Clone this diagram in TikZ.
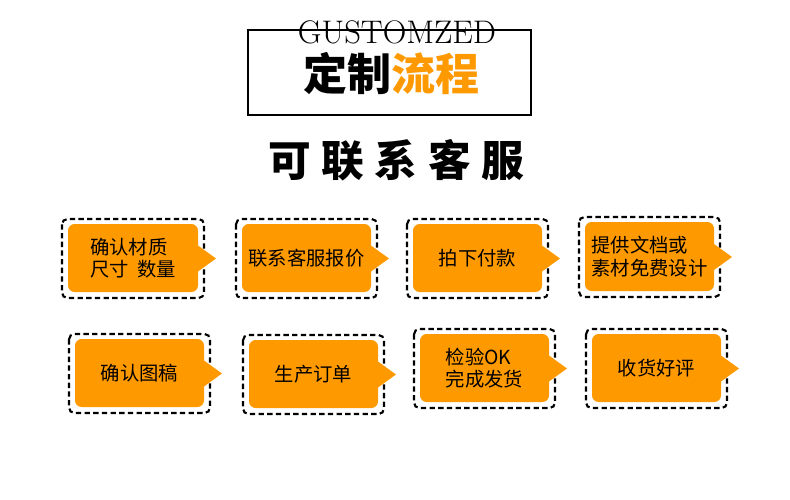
\documentclass[tikz,border=0pt]{standalone}
\usepackage{fontspec}
\newfontfamily\cjk{Noto Sans CJK SC}
\definecolor{org}{HTML}{FF9900}
\begin{document}
\begin{tikzpicture}[x=0.75pt,y=-0.75pt,
  outer/.style={draw=black,dashed,line width=1.6pt,rounded corners=4pt,dash pattern=on 4pt off 2.5pt},
  inner/.style={fill=org,rounded corners=5pt},
  lbl/.style={font=\cjk\fontsize{14.5}{17}\selectfont,align=left,text=black}]
\useasboundingbox (0,0) rectangle (790,500);
\draw[line width=1.2pt] (248,30) rectangle (531,115);
\node[font=\fontsize{24.5}{24}\selectfont] (g) at (397,32) {GUSTOMZED};
\node[font=\cjk\bfseries\fontsize{33}{34}\selectfont] (t) at (391,74) {定制\textcolor{org}{流程}};
\node[font=\cjk\bfseries\fontsize{32}{34}\selectfont] (s) at (396,160) {可\hspace{8pt}联\hspace{8pt}系\hspace{8pt}客\hspace{8pt}服};
\newcommand{\stepbox}[7]{%
  \draw[outer] (#1,#3) rectangle (#2,#4);
  \fill[inner] (#1+6,#3+5) rectangle (#2-6,#4-6);
  \fill[org] (#2-6,{(#3+#4)/2-13}) -- (#2+12,{(#3+#4)/2}) -- (#2-6,{(#3+#4)/2+13}) -- cycle;
  \node[lbl] (#5) at ({(#1+#2)/2},{(#3+#4)/2-0.5}) {#6};}
\stepbox{62}{204}{219}{298}{a}{确认材质\\尺寸\ \ 数量}{}
\stepbox{236}{377}{219}{298}{b}{联系客服报价}{}
\stepbox{407}{548}{219}{298}{c}{拍下付款}{}
\stepbox{579}{720}{217}{297}{d}{提供文档或\\素材免费设计}{}
\stepbox{69}{210}{334}{413}{e}{确认图稿}{}
\stepbox{243}{384}{335}{414}{f}{生产订单}{}
\stepbox{414}{555}{329}{408}{g2}{检验OK\\完成发货}{}
\stepbox{586}{727}{329}{408}{h}{收货好评}{}
\end{tikzpicture}
\end{document}
